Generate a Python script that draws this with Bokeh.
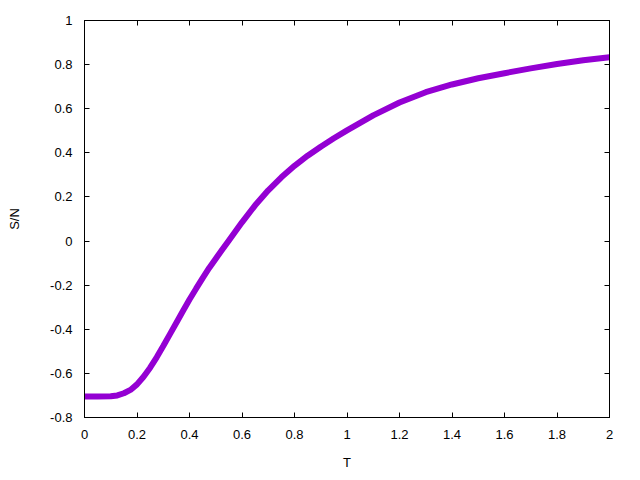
from bokeh.plotting import figure
from bokeh.models import Range1d, FixedTicker, LinearAxis
from bokeh.embed import file_html
from bokeh.resources import INLINE

# Data
T = [0.0, 0.05, 0.1, 0.125, 0.15, 0.175, 0.2, 0.225, 0.25, 0.275, 0.3,
     0.325, 0.35, 0.375, 0.4, 0.425, 0.45, 0.475, 0.5, 0.525, 0.55, 0.6,
     0.65, 0.7, 0.75, 0.8, 0.85, 0.9, 0.95, 1.0, 1.1, 1.2, 1.3, 1.4, 1.5,
     1.6, 1.7, 1.8, 1.9, 2.0]
S_N = [-0.705, -0.705, -0.704, -0.700, -0.690, -0.675, -0.650, -0.615,
       -0.574, -0.527, -0.476, -0.423, -0.370, -0.317, -0.265, -0.216,
       -0.168, -0.122, -0.080, -0.038, 0.003, 0.085, 0.162, 0.230, 0.289,
       0.341, 0.387, 0.428, 0.466, 0.502, 0.570, 0.628, 0.675, 0.710,
       0.738, 0.761, 0.783, 0.803, 0.820, 0.833]

x_ticks = [0, 0.2, 0.4, 0.6, 0.8, 1, 1.2, 1.4, 1.6, 1.8, 2]
x_tick_labels = ["0", "0.2", "0.4", "0.6", "0.8", "1", "1.2", "1.4", "1.6", "1.8", "2"]
y_ticks = [-0.8, -0.6, -0.4, -0.2, 0, 0.2, 0.4, 0.6, 0.8, 1]
y_tick_labels = ["-0.8", "-0.6", "-0.4", "-0.2", "0", "0.2", "0.4", "0.6", "0.8", "1"]

FONT = "Liberation Sans"
FS = "13px"

p = figure(width=632, height=472, output_backend="svg", toolbar_location=None,
           x_range=Range1d(0, 2), y_range=Range1d(-0.8, 1),
           min_border_left=84, min_border_right=23, min_border_top=20,
           min_border_bottom=53)
p.grid.visible = False
p.outline_line_color = "black"
p.outline_line_width = 1
p.background_fill_color = "white"
p.border_fill_color = "white"

p.line(T, S_N, line_color="#9400D3", line_width=6)

def style(ax, ticks, labels, show):
    ax.ticker = FixedTicker(ticks=ticks)
    ax.major_label_overrides = {t: l for t, l in zip(ticks, labels)}
    ax.axis_line_color = "black"
    ax.major_tick_line_color = "black"
    ax.major_tick_in = 5
    ax.major_tick_out = 0
    ax.minor_tick_line_color = None
    ax.major_label_text_font = FONT
    ax.major_label_text_font_size = FS if show else "1px"
    ax.major_label_text_color = "black" if show else None
    ax.axis_label_text_font = FONT
    ax.axis_label_text_font_size = FS
    ax.axis_label_text_font_style = "normal"
    ax.axis_label_text_color = "black"

xa = p.xaxis[0]
ya = p.yaxis[0]
style(xa, x_ticks, x_tick_labels, True)
style(ya, y_ticks, y_tick_labels, True)
xa.axis_label = "T"
ya.axis_label = "S/N"
xa.major_label_standoff = 12
ya.major_label_standoff = 12
xa.axis_label_standoff = 13
ya.axis_label_standoff = 25

top = LinearAxis()
right = LinearAxis()
style(top, x_ticks, [""] * len(x_ticks), False)
style(right, y_ticks, [""] * len(y_ticks), False)
top.major_label_standoff = 0
right.major_label_standoff = 0
p.add_layout(top, "above")
p.add_layout(right, "right")

open("out.html", "w").write(file_html(p, INLINE))
